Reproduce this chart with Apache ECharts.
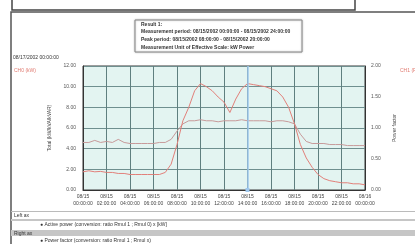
<!DOCTYPE html>
<html>
<head>
<meta charset="utf-8">
<script src="https://cdn.jsdelivr.net/npm/echarts@6/dist/echarts.min.js"></script>
<style>
html,body{margin:0;padding:0;background:#fff;}
#chart{width:415px;height:244px;}
</style>
</head>
<body>
<div id="chart"></div>
<script>
// half-hour readings, 08/15 00:00 .. 08/16 00:00
var times = [];
for (var h = 0; h <= 24; h++) {
	times.push((h < 24 ? '08/15' : '08/16') + '\n' + (h < 10 ? '0' + h : (h == 24 ? '00' : h)) + ':00:00');
	if (h < 24) times.push('08/15\n' + (h < 10 ? '0' + h : h) + ':30:00');
}
var leftTicks = ['0.00','2.00','4.00','6.00','8.00','10.00','12.00'];
var rightTicks = ['0.00','0.50','1.00','1.50','2.00'];
var activePower = [1.76,1.86,1.76,1.8,1.7,1.7,1.6,1.6,1.5,1.5,1.5,1.5,1.5,1.5,1.7,2.5,
	4.4,6.7,8.0,9.6,10.3,10.0,9.6,9.0,8.5,7.5,8.8,9.8,10.3,10.2,10.1,10.0,9.8,9.6,9.0,8.0,
	6.4,4.4,3.1,2.2,1.5,1.1,0.9,0.8,0.7,0.7,0.6,0.6,0.5];
var apparentPower = [4.6,4.6,4.8,4.6,4.7,4.6,4.9,4.6,4.5,4.5,4.5,4.5,4.5,4.6,4.6,4.9,
	5.7,6.4,6.7,6.7,6.8,6.7,6.7,6.6,6.7,6.7,6.7,6.8,6.7,6.7,6.7,6.7,6.6,6.7,6.7,6.6,
	6.4,5.4,4.7,4.5,4.5,4.5,4.4,4.4,4.4,4.3,4.3,4.3,4.3];
var cursorIndex = 28;

var myChart = echarts.init(document.getElementById('chart'));
var option = {
	animation: false,
	grid: {left: 83, right: 50, top: 66, bottom: 54, show: true, backgroundColor: '#e3f4f1', borderColor: '#3a3a3a', borderWidth: 1},
	xAxis: {
		type: 'category',
		data: times,
		boundaryGap: false,
		axisLine: {lineStyle: {color: '#333'}},
		axisTick: {show: false},
		axisLabel: {interval: 3, fontSize: 5, color: '#444', lineHeight: 7, margin: 3, fontFamily: 'Liberation Sans'},
		splitLine: {show: true, interval: 3, lineStyle: {color: '#5f7f7f', width: 1}}
	},
	yAxis: [
		{
			type: 'value', min: 0, max: 12, interval: 2,
			name: 'Total (kW/kVA/kVAR)', nameLocation: 'middle', nameGap: 24, nameRotate: 90,
			nameTextStyle: {fontSize: 5, color: '#444', fontFamily: 'Liberation Sans'},
			axisLine: {show: true, lineStyle: {color: '#333'}},
			axisTick: {show: false},
			axisLabel: {fontSize: 5, color: '#555', margin: 7, formatter: function(v){return leftTicks[v/2];}},
			splitLine: {lineStyle: {color: '#6f8f8f', width: 1}}
		},
		{
			type: 'value', min: 0, max: 2, interval: 0.5,
			name: 'Power factor', nameLocation: 'middle', nameGap: 23, nameRotate: 90,
			nameTextStyle: {fontSize: 5, color: '#444', fontFamily: 'Liberation Sans'},
			axisLine: {show: true, lineStyle: {color: '#333'}},
			axisTick: {show: false},
			axisLabel: {fontSize: 5, color: '#555', margin: 6, formatter: function(v){return rightTicks[v/0.5];}},
			splitLine: {show: false}
		}
	],
	series: [
		{
			name: 'Apparent power', type: 'line', data: apparentPower, symbol: 'none',
			lineStyle: {color: '#c79a9a', width: 1},
			markLine: {
				silent: true, symbol: ['rect', 'none'], symbolSize: [4, 4],
				label: {show: false},
				lineStyle: {color: '#9fc8ee', type: 'solid', width: 1.5},
				data: [{xAxis: cursorIndex}]
			}
		},
		{
			name: 'Active power', type: 'line', data: activePower, symbol: 'none',
			lineStyle: {color: '#e2807a', width: 1}
		}
	],
	graphic: [
		{type: 'rect', shape: {x: 12, y: -3, width: 343, height: 13}, style: {fill: 'none', stroke: '#444', lineWidth: 1.5}},
		{type: 'rect', shape: {x: 11, y: 12, width: 410, height: 240}, style: {fill: 'none', stroke: '#555', lineWidth: 1.5}},
		{type: 'rect', shape: {x: 135, y: 20, width: 167, height: 32}, style: {fill: '#fff', stroke: '#888', lineWidth: 1, shadowBlur: 2, shadowColor: '#bbb'}},
		{type: 'text', left: 141, top: 22, style: {text: 'Result 1:', fontSize: 5, fontWeight: 'bold', fill: '#333', fontFamily: 'Liberation Sans'}},
		{type: 'text', left: 141, top: 29, style: {text: 'Measurement period: 08/15/2002 00:00:00 - 08/15/2002 24:00:00', fontSize: 5, fontWeight: 'bold', fill: '#333', fontFamily: 'Liberation Sans'}},
		{type: 'text', left: 141, top: 37, style: {text: 'Peak period: 08/15/2002 08:00:00 - 08/15/2002 20:00:00', fontSize: 5, fontWeight: 'bold', fill: '#333', fontFamily: 'Liberation Sans'}},
		{type: 'text', left: 141, top: 45, style: {text: 'Measurement Unit of Effective Scale: kW Power', fontSize: 5, fontWeight: 'bold', fill: '#333', fontFamily: 'Liberation Sans'}},
		{type: 'text', left: 13, top: 55, style: {text: '08/17/2002 00:00:00', fontSize: 5, fill: '#333', fontFamily: 'Liberation Sans'}},
		{type: 'text', left: 14, top: 68, style: {text: 'CH0 (kW)', fontSize: 5, fill: '#e07a70', fontFamily: 'Liberation Sans'}},
		{type: 'text', left: 400, top: 68, style: {text: 'CH1 (PF)', fontSize: 5, fill: '#e07a70', fontFamily: 'Liberation Sans'}},
		{type: 'rect', shape: {x: 11, y: 211, width: 404, height: 1}, style: {fill: '#bbb'}},
		{type: 'text', left: 14, top: 213, style: {text: 'Left ax', fontSize: 5, fill: '#333', fontFamily: 'Liberation Sans'}},
		{type: 'rect', shape: {x: 11, y: 219, width: 404, height: 2}, style: {fill: '#c6c6c6'}},
		{type: 'text', left: 40, top: 222, style: {text: '\u25cf Active power (conversion: ratio Rmul 1 ; Rmul 0) x [kW]', fontSize: 5, fill: '#333', fontFamily: 'Liberation Sans'}},
		{type: 'rect', shape: {x: 11, y: 230, width: 404, height: 6}, style: {fill: '#c6c6c6'}},
		{type: 'text', left: 14, top: 231, style: {text: 'Right ax', fontSize: 5, fill: '#333', fontFamily: 'Liberation Sans'}},
		{type: 'text', left: 40, top: 238, style: {text: '\u25cf Power factor (conversion: ratio Rmul 1 ; Rmul x)', fontSize: 5, fill: '#333', fontFamily: 'Liberation Sans'}}
	]
};
myChart.setOption(option);
</script>
</body>
</html>
